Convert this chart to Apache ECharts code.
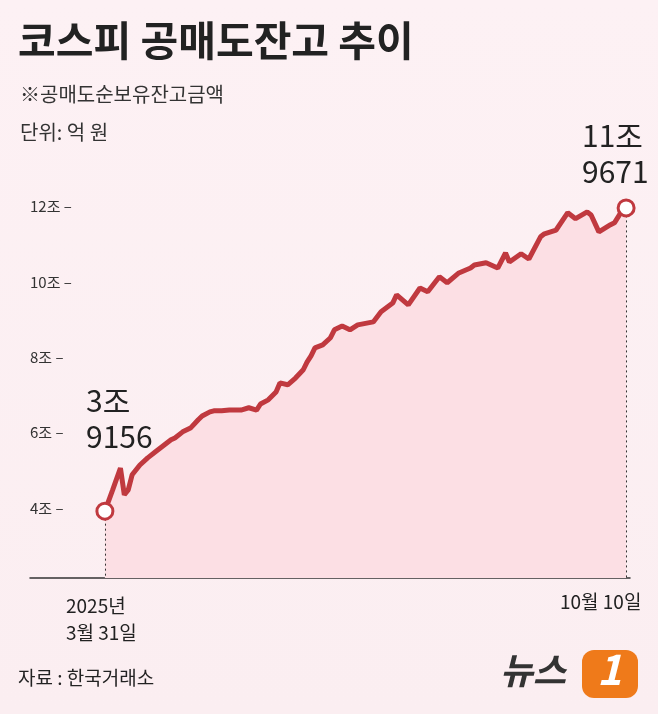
<!DOCTYPE html>
<html>
<head>
<meta charset="utf-8">
<script src="https://cdn.jsdelivr.net/npm/echarts@6/dist/echarts.min.js"></script>
<style>
html,body{margin:0;padding:0;}
#chart{width:658px;height:714px;}
</style>
</head>
<body>
<div id="chart"></div>
<script>
// 거래일 순번 (3월 31일 = 0, 10월 10일 = 134)
var days = [0,2,4,5,6,7,9,11,13,15,17,18,20,22,24,25,27,28,30,32,35,37,39,40,42,44,45,47,49,51,52,53,54,56,58,59,61,63,65,69,71,74,75,78,81,83,86,88,91,94,95,98,101,103,104,107,109,112,113,116,119,121,124,125,127,130,131,133,134];
// 공매도 잔고 (조 원)
var balance = [3.9156,4.48,5.06,4.35,4.48,4.88,5.14,5.33,5.49,5.65,5.81,5.86,6.02,6.12,6.34,6.44,6.55,6.58,6.58,6.60,6.60,6.66,6.60,6.76,6.87,7.08,7.32,7.27,7.45,7.67,7.88,8.04,8.25,8.33,8.52,8.73,8.83,8.73,8.86,8.94,9.21,9.44,9.66,9.39,9.84,9.74,10.14,9.98,10.24,10.37,10.45,10.51,10.37,10.77,10.53,10.75,10.61,11.20,11.28,11.38,11.84,11.68,11.86,11.78,11.33,11.52,11.57,11.90,11.9671];
var yTicks = [4,6,8,10,12];

var font = "'Noto Sans CJK KR', sans-serif";
var red = '#c0393f';
var yMin = 2.14;
var lastDay = days[days.length - 1];
// 축선이 왼쪽으로 더 뻗어 있음: 105px 시작, 30px 축 시작, 522px 폭
var xMin = -75 * lastDay / 522;

var seriesData = days.map(function(d, i) { return [d, balance[i]]; });
var lastIdx = balance.length - 1;

var myChart = echarts.init(document.getElementById('chart'));
var option = {
	backgroundColor: new echarts.graphic.LinearGradient(0, 0, 0, 1, [
		{offset: 0, color: '#fdf1f4'}, {offset: 1, color: '#fbeef1'}
	]),
	grid: {left: 30, right: 28, top: 169, bottom: 136},
	xAxis: {
		type: 'value', min: xMin, max: lastDay + 1,
		axisLine: {show: true, onZero: false, lineStyle: {color: '#333', width: 1.5}},
		axisTick: {show: false}, axisLabel: {show: false}, splitLine: {show: false}
	},
	yAxis: {
		type: 'value', min: yMin, max: 13,
		axisLine: {show: false}, axisTick: {show: false}, splitLine: {show: false},
		axisLabel: {
			customValues: yTicks, inside: true, margin: 0,
			formatter: function(v) { return v + '조 –'; },
			color: '#333', fontSize: 15, fontFamily: font
		}
	},
	series: [{
		type: 'line', data: seriesData, smooth: false,
		symbol: 'none',
		lineStyle: {color: red, width: 5},
		areaStyle: {color: '#fcdfe4', opacity: 1},
		markPoint: {
			symbol: 'circle', symbolSize: 16,
			itemStyle: {color: '#fff', borderColor: red, borderWidth: 3},
			label: {show: false},
			data: [{coord: seriesData[0]}, {coord: seriesData[lastIdx]}]
		},
		markLine: {
			symbol: 'none', silent: true,
			lineStyle: {color: '#333', type: [2, 3], width: 1},
			label: {show: false},
			data: [
				[{coord: [days[0], balance[0] - 0.2]}, {coord: [days[0], yMin]}],
				[{coord: [lastDay, balance[lastIdx] - 0.2]}, {coord: [lastDay, yMin]}]
			]
		}
	}],
	graphic: [
		{type: 'text', left: 18, top: 20, style: {text: '코스피 공매도잔고 추이', font: 'bold 41px ' + font, fill: '#222'}},
		{type: 'text', left: 20, top: 84, style: {text: '※공매도순보유잔고금액', font: '20px ' + font, fill: '#333'}},
		{type: 'text', left: 20, top: 122, style: {text: '단위: 억 원', font: '20px ' + font, fill: '#333'}},
		{type: 'text', left: 86, top: 383, style: {text: '3조\n9156', font: '30px ' + font, fill: '#222', lineHeight: 36}},
		{type: 'text', left: 582, top: 118, style: {text: '11조\n9671', font: '30px ' + font, fill: '#222', lineHeight: 36}},
		{type: 'text', left: 66, top: 592, style: {text: '2025년\n3월 31일', font: '19px ' + font, fill: '#222', lineHeight: 27}},
		{type: 'text', left: 560, top: 592, style: {text: '10월 10일', font: '19px ' + font, fill: '#222'}},
		{type: 'text', left: 18, top: 668, style: {text: '자료 : 한국거래소', font: '19px ' + font, fill: '#222'}},
		{type: 'text', left: 500, top: 652, style: {text: '뉴스', font: 'bold italic 36px ' + font, fill: '#333'}},
		{type: 'rect', left: 582, top: 650, shape: {width: 56, height: 48, r: 12}, style: {fill: '#ef7a1a'}},
		{type: 'text', left: 597, top: 648, style: {text: '1', font: 'bold italic 42px ' + font, fill: '#fff'}}
	]
};
myChart.setOption(option);
</script>
</body>
</html>
